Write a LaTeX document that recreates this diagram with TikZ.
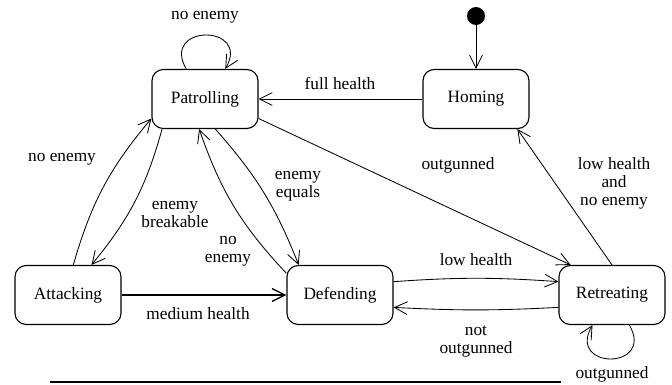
\documentclass[tikz,border=0pt]{standalone}
\usepackage{fontspec}
\setmainfont{Liberation Serif}
\usetikzlibrary{arrows.meta}

\tikzset{
  state/.style={draw, rounded corners=8pt, minimum width=2.65cm, minimum height=1.475cm,
    line width=0.8pt, font=\fontsize{12.3}{12.8}\selectfont},
  trans/.style={-{Straight Barb[length=3.2mm,width=3.2mm]}, line width=0.6pt},
  lbl/.style={font=\fontsize{12.3}{12.8}\selectfont, align=center, inner sep=0pt},
}

\begin{document}
\begin{tikzpicture}
  \useasboundingbox (0,0) rectangle (16.8,9.6);

  % states
  \node (P) [state] at (5.125,7.125) {Patrolling};
  \node (H) [state] at (11.9,7.125) {Homing};
  \node (A) [state] at (1.7,2.225) {Attacking};
  \node (D) [state] at (8.5,2.225) {Defending};
  \node (R) [state] at (15.3,2.225) {Retreating};
  \node (init) [circle, fill=black, inner sep=0pt, minimum size=0.45cm] at (11.9,9.2) {};

  % transitions
  \draw[trans] (init) -- (H);
  \draw[trans] (H) -- (P);
  \draw[trans] (P.-20) -- (R.144);
  \draw[trans] (R.north) -- (H.-36);
  \draw[trans] (A.80) to[bend left=12] (P.200);
  \draw[trans] (P.215) to[bend left=12] (A.52);
  \draw[trans] (P.-71) to[bend left=10] (D.144);
  \draw[trans] (D.158) to[bend left=12] (P.-101);
  \draw[trans, line width=1pt] (A) -- (D);
  \draw[trans] (D.14) to[bend left=4] (R.166);
  \draw[trans] (R.-167) to[bend left=3] (D.-13);
  \draw[trans] (P.122) to[out=120,in=60,distance=1.3cm] (P.56);
  \draw[trans] (R.-60) to[out=-60,in=-120,distance=1.3cm] (R.-123);

  % labels
  \node (l1) [lbl] at (5.125,9.175) {no enemy};
  \node (l2) [lbl] at (8.5,7.525) {full health};
  \node (l3) [lbl] at (11.45,5.475) {outgunned};
  \node (l4) [lbl] at (15.35,5.025) {low health\\and\\no enemy};
  \node (l5) [lbl] at (1.55,5.625) {no enemy};
  \node (l6) [lbl] at (4.375,4.225) {enemy\\breakable};
  \node (l7) [lbl] at (5.7,3.325) {no\\enemy};
  \node (l8) [lbl] at (7.45,4.95) {enemy\\equals};
  \node (l9) [lbl] at (4.95,1.75) {medium health};
  \node (l10) [lbl] at (11.9,3.1) {low health};
  \node (l11) [lbl] at (11.9,1.075) {not\\outgunned};
  \node (l12) [lbl] at (15.3,0.25) {outgunned};

  % rule at the bottom
  \coordinate (r1) at (1.25,0.05);
  \coordinate (r2) at (14.025,0.05);
  \draw[line width=1pt] (r1) -- (r2);
\end{tikzpicture}
\end{document}
